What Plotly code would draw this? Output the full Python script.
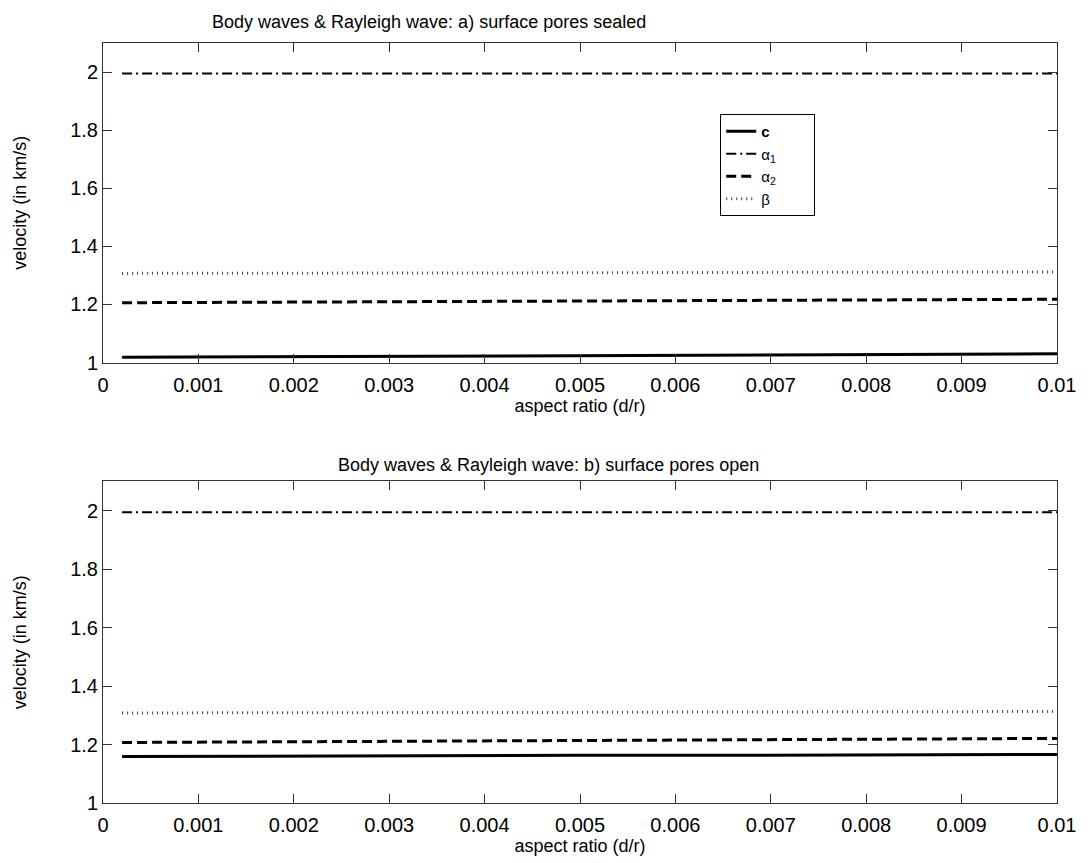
import plotly.graph_objects as go

# ---- data ----
aspect_ratio = [0.0002, 0.001, 0.002, 0.003, 0.004, 0.005, 0.006, 0.007, 0.008, 0.009, 0.010]

c_sealed = [1.018, 1.019, 1.020, 1.021, 1.022, 1.023, 1.024, 1.026, 1.027, 1.028, 1.030]
alpha1_sealed = [1.995, 1.995, 1.995, 1.995, 1.995, 1.995, 1.995, 1.995, 1.995, 1.995, 1.995]
alpha2_sealed = [1.206, 1.207, 1.208, 1.209, 1.210, 1.211, 1.212, 1.214, 1.215, 1.216, 1.218]
beta_sealed = [1.307, 1.307, 1.308, 1.308, 1.309, 1.309, 1.310, 1.310, 1.311, 1.311, 1.312]

c_open = [1.159, 1.160, 1.160, 1.161, 1.162, 1.163, 1.163, 1.164, 1.165, 1.165, 1.166]
alpha1_open = [1.995, 1.995, 1.995, 1.995, 1.995, 1.995, 1.995, 1.995, 1.995, 1.995, 1.995]
alpha2_open = [1.207, 1.208, 1.209, 1.210, 1.212, 1.213, 1.214, 1.216, 1.217, 1.219, 1.221]
beta_open = [1.308, 1.308, 1.309, 1.309, 1.310, 1.310, 1.311, 1.311, 1.312, 1.312, 1.313]

x_ticks = [0, 0.001, 0.002, 0.003, 0.004, 0.005, 0.006, 0.007, 0.008, 0.009, 0.01]
x_ticklabels = ["0", "0.001", "0.002", "0.003", "0.004", "0.005", "0.006", "0.007", "0.008", "0.009", "0.01"]
y_ticks = [1, 1.2, 1.4, 1.6, 1.8, 2]
y_ticklabels = ["1", "1.2", "1.4", "1.6", "1.8", "2"]

names = ["<b>c</b>", "α<sub>1</sub>", "α<sub>2</sub>", "β"]
legend_pad = "&nbsp;" * 8
styles = [
    dict(color="black", width=3, dash="solid"),
    dict(color="black", width=2, dash="10px,4px,2px,4px"),
    dict(color="black", width=3, dash="10px,5px"),
    dict(color="#444444", width=3, dash="1px,4px"),
]

FONT = "Liberation Sans, Arial, sans-serif"

fig = go.Figure()
panels = [
    ("x", "y", [c_sealed, alpha1_sealed, alpha2_sealed, beta_sealed], True),
    ("x2", "y2", [c_open, alpha1_open, alpha2_open, beta_open], False),
]
for xa, ya, series, show in panels:
    for name, vals, st in zip(names, series, styles):
        fig.add_trace(go.Scatter(
            x=aspect_ratio, y=vals, mode="lines", name=name + legend_pad,
            line=st, xaxis=xa, yaxis=ya, showlegend=show,
        ))

axis_common = dict(
    showline=True, linecolor="#333333", linewidth=1, mirror="ticks",
    ticks="inside", ticklen=9, tickcolor="#333333", showgrid=False, zeroline=False,
    tickfont=dict(family=FONT, size=20, color="black"),
)

xcommon = dict(domain=[0, 1], range=[0, 0.01], tickvals=x_ticks, ticktext=x_ticklabels,
               ticklabelstandoff=4,
               title=dict(text="aspect ratio (d/r)", font=dict(size=18), standoff=2), **axis_common)
ycommon = dict(range=[1, 2.1], tickvals=y_ticks, ticktext=y_ticklabels,
               title=dict(text="velocity (in km/s)", font=dict(size=18), standoff=38), **axis_common)

# page body has an 8px margin, so the figure is offset by 8px right and down
fig.update_layout(
    width=1080, height=855,
    paper_bgcolor="white", plot_bgcolor="white",
    margin=dict(l=92, r=25, t=35, b=59),
    font=dict(family=FONT, color="black"),
    xaxis=dict(anchor="y", **xcommon),
    yaxis=dict(domain=[0.5795, 1], anchor="x", **ycommon),
    xaxis2=dict(anchor="y2", **xcommon),
    yaxis2=dict(domain=[0, 0.4231], anchor="x2", **ycommon),
    legend=dict(x=0.647, y=0.9067, xanchor="left", yanchor="top",
                bgcolor="white", bordercolor="black", borderwidth=1,
                font=dict(family=FONT, size=15, color="black"), tracegroupgap=0),
    annotations=[
        dict(text="Body waves & Rayleigh wave: a) surface pores sealed", xref="paper", yref="paper",
             x=(429 - 100) / 963, y=(804 - 22) / 761, xanchor="center", yanchor="middle",
             showarrow=False, font=dict(family=FONT, size=18, color="black")),
        dict(text="Body waves & Rayleigh wave: b) surface pores open", xref="paper", yref="paper",
             x=(550 - 100) / 963, y=(804 - 466) / 761, xanchor="center", yanchor="middle",
             showarrow=False, font=dict(family=FONT, size=18, color="black")),
    ],
)

fig.write_html("out.html")
